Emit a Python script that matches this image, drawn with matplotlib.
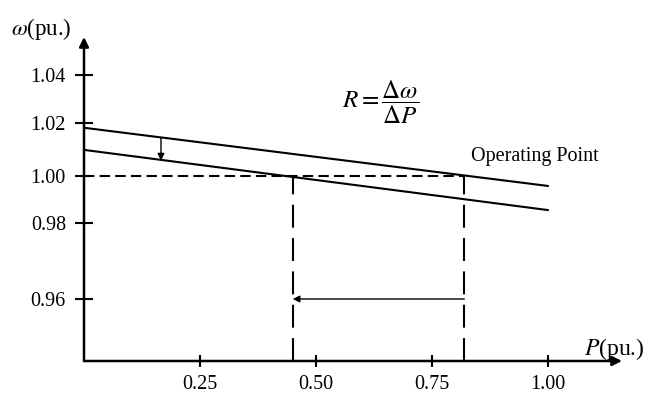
import numpy as np
import matplotlib
matplotlib.use("Agg")
import matplotlib.pyplot as plt

plt.rcParams['font.family'] = ['Liberation Serif', 'DejaVu Serif']
plt.rcParams['mathtext.fontset'] = 'stix'

# Droop characteristics (frequency vs. power, per unit)
p_range = [0.0, 1.0]
omega_initial = [1.0181, 0.9958]
omega_shifted = [1.0098, 0.9856]
omega_ref = 1.00
p_new = 0.45
p_op = 0.82

x_ticks = [0.25, 0.50, 0.75, 1.00]
x_labels = ['0.25', '0.50', '0.75', '1.00']
y_ticks = [0.96, 0.98, 1.00, 1.02, 1.04]
y_labels = ['0.96', '0.98', '1.00', '1.02', '1.04']

# schematic (non-uniform) frequency axis: value -> height above the P axis
scale_vals = [0.94, 0.96, 0.98, 1.00, 1.02, 1.04, 1.06]
scale_h = [-13.7, 62.0, 137.7, 185.0, 238.3, 286.0, 333.7]


def fwd(v):
    return np.interp(v, scale_vals, scale_h)


def inv(h):
    return np.interp(h, scale_h, scale_vals)


fig = plt.figure(figsize=(6.47, 3.96), dpi=100)
ax = fig.add_axes([84 / 647, 35 / 396, 538 / 647, 324 / 396])
ax.set_yscale('function', functions=(fwd, inv))
ax.set_xlim(0, 1.16)
ax.set_ylim(inv(0), inv(324))

for s in ax.spines.values():
    s.set_visible(False)

# axes drawn as arrows
arrow_kw = dict(arrowstyle='-|>', lw=1.8, color='k', shrinkA=0, shrinkB=0, mutation_scale=14)
ax.annotate('', xy=(0, 1), xytext=(0, 0), xycoords='axes fraction', arrowprops=arrow_kw)
ax.annotate('', xy=(1, 0), xytext=(0, 0), xycoords='axes fraction', arrowprops=arrow_kw)

ax.set_xticks(x_ticks, x_labels)
ax.set_yticks(y_ticks, y_labels)
ax.yaxis.set_minor_locator(matplotlib.ticker.NullLocator())
ax.tick_params(axis='y', direction='inout', length=13, width=1.5, pad=6.5, labelsize=14.5)
ax.tick_params(axis='x', direction='inout', length=8.6, width=1.5, pad=6, labelsize=14.5)

# droop lines
ax.plot(p_range, omega_initial, color='k', lw=1.5)
ax.plot(p_range, omega_shifted, color='k', lw=1.5)

# reference frequency and power levels
ax.plot([0, p_op], [omega_ref, omega_ref], color='k', lw=1.5, dashes=(5, 2.5))
for p in (p_new, p_op):
    ax.plot([p, p], [ax.get_ylim()[0], omega_ref], color='k', lw=1.5, dashes=(11, 5))

# shift arrows
ax.annotate('', xy=(p_new, 0.96), xytext=(p_op, 0.96),
            arrowprops=dict(arrowstyle='-|>', lw=1.0, color='k', shrinkA=0, shrinkB=0, mutation_scale=10))
ax.annotate('', xy=(0.166, 1.0058), xytext=(0.166, 1.0144),
            arrowprops=dict(arrowstyle='-|>', lw=1.0, color='k', shrinkA=0, shrinkB=0, mutation_scale=10))

ax.text(0.64, 1.0285, r'$R=\dfrac{\Delta\omega}{\Delta P}$', ha='center', va='center', fontsize=18)
ax.text(0.834, 1.0075, 'Operating Point', ha='left', va='center', fontsize=14.5)

fig.text(11 / 647, 1 - 29 / 396, r'$\omega$(pu.)', ha='left', va='center', fontsize=16.5)
fig.text(584 / 647, 1 - 349 / 396, r'$P$(pu.)', ha='left', va='center', fontsize=17)

fig.savefig('out.png', dpi=100)
